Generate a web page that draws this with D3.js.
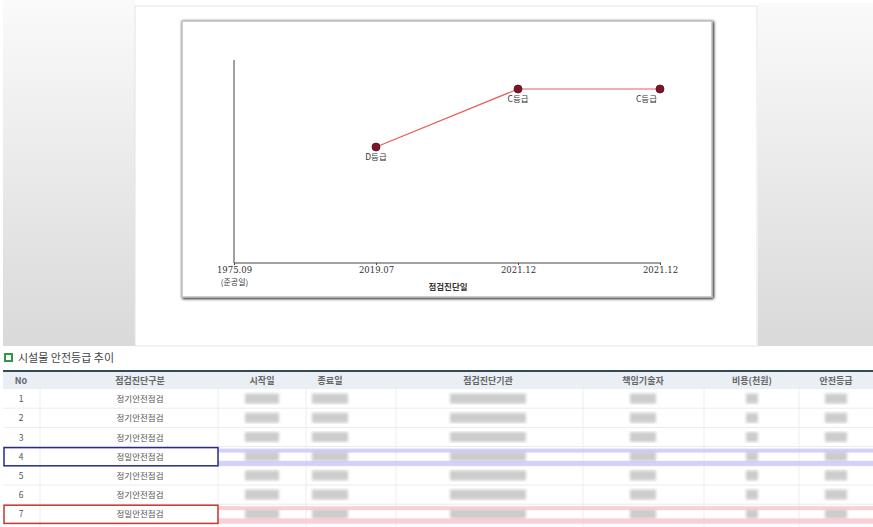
<!DOCTYPE html>
<head>
  <meta charset="utf-8">
  <script src="https://d3js.org/d3.v7.min.js"></script>
  <style>
    body { margin:0; background:#fff; }
    text { font-family: "Noto Sans CJK KR", "DejaVu Sans", sans-serif; }
  </style>
</head>

<body>
<script>
  // chart data
  var dateLabels = ["1975.09", "2019.07", "2021.12", "2021.12"];
  var gradeNames = [null, "D등급", "C등급", "C등급"];
  var gradeValues = [null, 2, 3, 3];   // E=1, D=2, C=3

  // table data
  var tableTitle = "시설물 안전등급 추이";
  var headers = ["No", "점검진단구분", "시작일", "종료일", "점검진단기관", "책임기술자", "비용(천원)", "안전등급"];
  var rowNos = ["1", "2", "3", "4", "5", "6", "7"];
  var rowKinds = ["정기안전점검", "정기안전점검", "정기안전점검", "정밀안전점검", "정기안전점검", "정기안전점검", "정밀안전점검"];

  var W = 873, H = 527;
  var svg = d3.select("body").append("svg")
    .attr("width", W).attr("height", H);

  var defs = svg.append("defs");
  var grad = defs.append("linearGradient").attr("id", "side")
    .attr("x1", 0).attr("y1", 0).attr("x2", 0).attr("y2", 1);
  grad.append("stop").attr("offset", "0%").attr("stop-color", "#fafafa");
  grad.append("stop").attr("offset", "100%").attr("stop-color", "#d9d9d9");
  defs.append("filter").attr("id", "blur")
    .append("feGaussianBlur").attr("stdDeviation", 1.8);
  var sh = defs.append("filter").attr("id", "shadow")
    .attr("x", "-5%").attr("y", "-5%").attr("width", "110%").attr("height", "110%");
  sh.append("feGaussianBlur").attr("in", "SourceAlpha").attr("stdDeviation", 1.5);
  sh.append("feOffset").attr("dx", 1).attr("dy", 1).attr("result", "o");
  var mg = sh.append("feMerge");
  mg.append("feMergeNode").attr("in", "o");
  mg.append("feMergeNode").attr("in", "SourceGraphic");

  // page background pieces
  svg.append("rect").attr("x", 3).attr("y", 0).attr("width", 132).attr("height", 346).attr("fill", "url(#side)");
  svg.append("rect").attr("x", 758).attr("y", 3).attr("width", 115).attr("height", 343).attr("fill", "url(#side)");
  svg.append("rect").attr("x", 135).attr("y", 6).attr("width", 622).attr("height", 340)
    .attr("fill", "#fff").attr("stroke", "#e4e4e4");

  // chart frame
  svg.append("rect").attr("x", 182).attr("y", 21).attr("width", 530).attr("height", 276)
    .attr("fill", "#fff").attr("stroke", "#bdbdbd").attr("stroke-width", 1.5)
    .attr("filter", "url(#shadow)");

  var x = d3.scalePoint()
    .domain(d3.range(dateLabels.length))
    .range([234, 660]);
  var y = d3.scaleLinear()
    .domain([0, 3.5])
    .range([263, 60]);

  var g = svg.append("g");

  // y axis (line only)
  g.append("line").attr("x1", 234).attr("x2", 234).attr("y1", y(3.5)).attr("y2", y(0))
    .attr("stroke", "#444").attr("stroke-width", 1);

  // x axis
  var xAxis = g.append("g")
    .attr("transform", "translate(0," + y(0) + ")")
    .call(d3.axisBottom(x).tickSize(2).tickPadding(2).tickFormat(function(i) { return dateLabels[i]; }));
  xAxis.select(".domain").attr("stroke", "#444").attr("d", "M234,0H661");
  xAxis.selectAll(".tick line").attr("stroke", "#444");
  xAxis.selectAll(".tick text")
    .attr("fill", "#333").style("font-size", "8.5px").style("font-family", "'DejaVu Serif', serif");
  xAxis.selectAll(".tick").filter(function(d) { return d === 0; })
    .append("text").attr("y", 16).attr("dy", "0.71em").attr("fill", "#333")
    .attr("text-anchor", "middle").style("font-size", "8px")
    .text("(준공일)");

  g.append("text").attr("x", 448).attr("y", 290)
    .attr("text-anchor", "middle").attr("fill", "#333")
    .style("font-size", "8.5px").style("font-weight", "bold")
    .text("점검진단일");

  // line + points
  var pts = d3.range(dateLabels.length).filter(function(i) { return gradeValues[i] != null; });
  var line = d3.line()
    .x(function(i) { return x(i); })
    .y(function(i) { return y(gradeValues[i]); });
  g.append("path").datum(pts)
    .attr("d", line).attr("fill", "none")
    .attr("stroke", "#e85c5c").attr("stroke-width", 1.2);

  g.selectAll("circle.pt").data(pts).enter().append("circle")
    .attr("class", "pt")
    .attr("cx", function(i) { return x(i); })
    .attr("cy", function(i) { return y(gradeValues[i]); })
    .attr("r", 4)
    .attr("fill", "#7d1526").attr("stroke", "#5a0d18").attr("stroke-width", 0.8);

  g.selectAll("text.lbl").data(pts).enter().append("text")
    .attr("class", "lbl")
    .attr("x", function(i, k) { return k === pts.length - 1 ? x(i) - 3 : x(i); })
    .attr("y", function(i) { return y(gradeValues[i]) + 13; })
    .attr("text-anchor", function(i, k) { return k === pts.length - 1 ? "end" : "middle"; })
    .attr("fill", "#333").style("font-size", "8.5px")
    .text(function(i) { return gradeNames[i]; });

  // ---- table ----
  svg.append("rect").attr("x", 5).attr("y", 354).attr("width", 7).attr("height", 7)
    .attr("fill", "#fff").attr("stroke", "#2e9a3e").attr("stroke-width", 2);
  svg.append("text").attr("x", 18).attr("y", 362)
    .attr("fill", "#444").style("font-size", "11px")
    .text(tableTitle);

  var colEdges = [3, 40, 218, 306, 396, 583, 704, 799, 873];
  var colCenter = [21, 140, 262, 330, 488, 643, 752, 836];
  var blurW = [0, 0, 34, 36, 76, 26, 12, 22];
  var headTop = 371, headH = 18, rowH = 19.2;

  svg.append("rect").attr("x", 3).attr("y", headTop).attr("width", 870).attr("height", headH)
    .attr("fill", "#e9eff5");
  svg.append("line").attr("x1", 3).attr("x2", 873).attr("y1", headTop).attr("y2", headTop)
    .attr("stroke", "#34495e").attr("stroke-width", 2);
  colEdges.slice(1, -1).forEach(function(cx) {
    svg.append("line").attr("x1", cx).attr("x2", cx).attr("y1", headTop + 1).attr("y2", 527)
      .attr("stroke", "#eeeeee");
  });
  svg.selectAll("text.hd").data(headers).enter().append("text")
    .attr("class", "hd")
    .attr("x", function(d, i) { return colCenter[i]; })
    .attr("y", headTop + 13)
    .attr("text-anchor", "middle").attr("fill", "#666")
    .style("font-size", "9px").style("font-weight", "bold")
    .text(function(d) { return d; });

  rowNos.forEach(function(no, r) {
    var top = headTop + headH + r * rowH;
    var cy = top + rowH / 2;
    svg.append("line").attr("x1", 3).attr("x2", 873).attr("y1", top + rowH).attr("y2", top + rowH)
      .attr("stroke", "#ececec");
    svg.append("text").attr("x", colCenter[0]).attr("y", cy + 3.5)
      .attr("text-anchor", "middle").attr("fill", "#555").style("font-size", "8.5px").text(no);
    svg.append("text").attr("x", colCenter[1]).attr("y", cy + 3.5)
      .attr("text-anchor", "middle").attr("fill", "#555").style("font-size", "8.5px").text(rowKinds[r]);
    // masked cells
    for (var c = 2; c < headers.length; c++) {
      svg.append("rect")
        .attr("x", colCenter[c] - blurW[c] / 2).attr("y", cy - 5)
        .attr("width", blurW[c]).attr("height", 10)
        .attr("fill", "#cccccc").attr("filter", "url(#blur)");
    }
  });

  // highlighted rows
  function mark(r, stroke, band) {
    var top = headTop + headH + r * rowH;
    svg.append("rect").attr("x", 218).attr("y", top + 2).attr("width", 655).attr("height", 4)
      .attr("fill", band).attr("opacity", 0.8);
    svg.append("rect").attr("x", 218).attr("y", top + rowH - 5).attr("width", 655).attr("height", 5)
      .attr("fill", band).attr("opacity", 0.8);
    svg.append("rect").attr("x", 4).attr("y", top + 1).attr("width", 214).attr("height", rowH - 1)
      .attr("fill", "none").attr("stroke", stroke).attr("stroke-width", 1.5);
  }
  mark(3, "#2a2a8c", "#c6c6fa");
  mark(6, "#cc3333", "#f8c4c8");
</script>
</body>
